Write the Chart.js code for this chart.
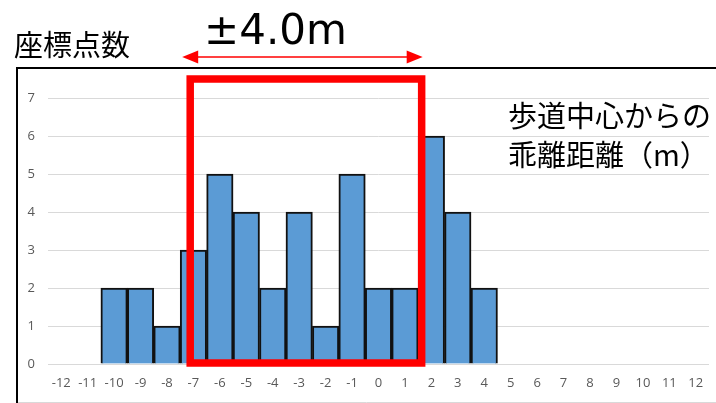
<!DOCTYPE html>
<html>
<head>
<meta charset="utf-8">
<script src="https://cdn.jsdelivr.net/npm/chart.js@4"></script>
<style>
  html, body { margin: 0; padding: 0; background: #fff; }
  #wrap { width: 716px; height: 403px; position: relative; }
</style>
</head>
<body>
<div id="wrap"><canvas id="chart1"></canvas></div>
<script>
// deviation from sidewalk centre (m) and number of points
const distanceLabels = ['-12', '-11', '-10', '-9', '-8', '-7', '-6', '-5', '-4', '-3', '-2', '-1',
  '0', '1', '2', '3', '4', '5', '6', '7', '8', '9', '10', '11', '12'];
const pointCounts = [0, 0, 2, 2, 1, 3, 5, 4, 2, 4, 1, 5, 2, 2, 6, 4, 2, 0, 0, 0, 0, 0, 0, 0, 0];

const yTitle = '座標点数';
const rangeText = '±4.0m';
const xTitleLines = ['歩道中心からの', '乖離距離（m）'];
// range box spans these categories
const boxFrom = '-7';
const boxTo = '1';

const jpFont = '"Noto Sans CJK JP", "Noto Sans", sans-serif';

const framePlugin = {
  id: 'frame',
  beforeDraw(chart) {
    const ctx = chart.ctx;
    ctx.save();
    ctx.fillStyle = '#fff';
    ctx.fillRect(0, 0, chart.width, chart.height);
    // outer chart border (cut off on the right)
    ctx.strokeStyle = '#d9d9d9';
    ctx.lineWidth = 1;
    ctx.beginPath();
    ctx.moveTo(17, 402.5);
    ctx.lineTo(chart.width, 402.5);
    ctx.stroke();
    ctx.strokeStyle = '#000';
    ctx.lineWidth = 2;
    ctx.beginPath();
    ctx.moveTo(17, chart.height);
    ctx.lineTo(17, 68);
    ctx.lineTo(chart.width, 68);
    ctx.stroke();
    ctx.restore();
  }
};

const notesPlugin = {
  id: 'notes',
  afterDraw(chart) {
    const ctx = chart.ctx;
    const x = chart.scales.x;
    const y = chart.scales.y;
    const i0 = distanceLabels.indexOf(boxFrom);
    const i1 = distanceLabels.indexOf(boxTo);
    const half = (x.getPixelForValue(1) - x.getPixelForValue(0)) / 2;
    const left = x.getPixelForValue(i0) - half + 10;
    const right = x.getPixelForValue(i1) + half + 3.5;
    const bottom = y.getPixelForValue(0) - 1;
    const top = 79;

    ctx.save();
    // red range box
    ctx.strokeStyle = '#ff0000';
    ctx.lineWidth = 7.5;
    ctx.strokeRect(left, top, right - left, bottom - top);

    // double arrow
    const ay = 57;
    const ax0 = left - 8;
    const ax1 = right + 1;
    ctx.lineWidth = 1.5;
    ctx.beginPath();
    ctx.moveTo(ax0 + 10, ay);
    ctx.lineTo(ax1 - 10, ay);
    ctx.stroke();
    ctx.fillStyle = '#ff0000';
    ctx.beginPath();
    ctx.moveTo(ax0, ay);
    ctx.lineTo(ax0 + 16, ay - 6.5);
    ctx.lineTo(ax0 + 16, ay + 6.5);
    ctx.closePath();
    ctx.fill();
    ctx.beginPath();
    ctx.moveTo(ax1, ay);
    ctx.lineTo(ax1 - 16, ay - 6.5);
    ctx.lineTo(ax1 - 16, ay + 6.5);
    ctx.closePath();
    ctx.fill();

    // texts
    ctx.fillStyle = '#000';
    ctx.textBaseline = 'alphabetic';
    ctx.textAlign = 'left';
    ctx.font = '42px "DejaVu Sans", sans-serif';
    ctx.fillText(rangeText, 204, 44);

    ctx.textBaseline = 'middle';
    ctx.font = '29px ' + jpFont;
    ctx.fillText(yTitle, 14, 45);
    ctx.fillText(xTitleLines[0], 508, 116);
    ctx.fillText(xTitleLines[1], 508, 155);
    ctx.restore();
  }
};

const tickFont = { family: '"Open Sans", "Noto Sans", sans-serif', size: 13 };

new Chart(document.getElementById('chart1'), {
  type: 'bar',
  data: {
    labels: distanceLabels,
    datasets: [{
      label: yTitle,
      data: pointCounts,
      backgroundColor: '#5b9bd5',
      borderColor: '#111',
      borderWidth: 2,
      barPercentage: 1,
      categoryPercentage: 1
    }]
  },
  options: {
    responsive: true,
    maintainAspectRatio: false,
    animation: false,
    layout: { padding: { left: 0, top: 98, right: 7, bottom: 0 } },
    plugins: {
      legend: { display: false },
      tooltip: { enabled: false }
    },
    scales: {
      x: {
        grid: { display: false, drawTicks: false },
        border: { display: false },
        ticks: { color: '#595959', font: tickFont, padding: 11, maxRotation: 0, autoSkip: false },
        afterFit(scale) { scale.height = 39; }
      },
      y: {
        min: 0,
        max: 7,
        grid: { color: '#d9d9d9', lineWidth: 1, drawTicks: false },
        border: { display: false },
        ticks: { stepSize: 1, color: '#595959', font: tickFont, padding: 13 },
        afterFit(scale) { scale.width = 48; }
      }
    }
  },
  plugins: [framePlugin, notesPlugin]
});
</script>
</body>
</html>
